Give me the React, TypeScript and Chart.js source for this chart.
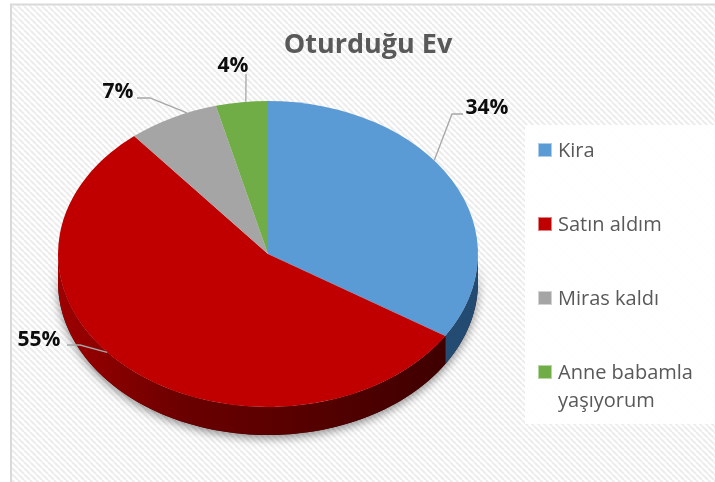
import React, { useEffect, useRef } from "react";
import { Chart, registerables } from "chart.js";

Chart.register(...registerables);

// ---- data ----
const TITLE = "Oturduğu Ev";
const CATEGORIES = ["Kira", "Satın aldım", "Miras kaldı", "Anne babamla yaşıyorum"];
const VALUES = [34, 55, 7, 4];
const VALUE_LABELS = ["34%", "55%", "7%", "4%"];

// ---- styles ----
const COLORS = ["#5b9bd5", "#c00000", "#a5a5a5", "#70ad47"];
const SIDE_STOPS = [
  ["#3d6f9e", "#2b557e", "#234a70"],
  ["#9e0000", "#6a0000", "#3a0000"],
  ["#7a7a7a", "#5e5e5e", "#4a4a4a"],
  ["#4f8030", "#3e6526", "#30501d"],
];
const TILT = 153 / 210;
const DEPTH = 28;
const FONT = "'Open Sans', 'DejaVu Sans', sans-serif";

// label layout: baseline-centered text position, leader elbow points, angle nudge for leader end
const LABEL_LAYOUT = [
  { x: 487, y: 114, path: [[463, 114], [452, 114]], nudge: -0.155 },
  { x: 39, y: 346, path: [[67, 345], [80, 345]], nudge: 0.15 },
  { x: 118, y: 98, path: [[137, 98], [150, 98]], nudge: 0.075 },
  { x: 233, y: 72, path: [[246, 74]], nudge: 0.02 },
];

function ellipsePt(cx: number, cy: number, r: number, t: number, dy = 0) {
  return [cx + r * Math.cos(t), cy + TILT * r * Math.sin(t) + dy];
}

function sidePath(ctx: CanvasRenderingContext2D, cx: number, cy: number, r: number, a1: number, a2: number) {
  const steps = 80;
  ctx.beginPath();
  for (let i = 0; i <= steps; i++) {
    const t = a1 + ((a2 - a1) * i) / steps;
    const [x, y] = ellipsePt(cx, cy, r, t);
    if (i === 0) ctx.moveTo(x, y);
    else ctx.lineTo(x, y);
  }
  for (let i = steps; i >= 0; i--) {
    const t = a1 + ((a2 - a1) * i) / steps;
    const [x, y] = ellipsePt(cx, cy, r, t, DEPTH);
    ctx.lineTo(x, y);
  }
  ctx.closePath();
}

const bgPlugin = {
  id: "bgPlugin",
  beforeDraw(chart: any) {
    const ctx: CanvasRenderingContext2D = chart.ctx;
    const w = chart.width, h = chart.height;
    ctx.save();
    ctx.fillStyle = "#ffffff";
    ctx.fillRect(0, 0, w, h);
    const p = document.createElement("canvas");
    p.width = 6; p.height = 6;
    const pc = p.getContext("2d")!;
    pc.fillStyle = "#ffffff";
    pc.fillRect(0, 0, 6, 6);
    pc.strokeStyle = "#ececec";
    pc.lineWidth = 2;
    pc.beginPath();
    for (const x0 of [-6, 0, 6]) {
      pc.moveTo(x0, 0);
      pc.lineTo(x0 + 6, 6);
    }
    pc.stroke();
    const pat = ctx.createPattern(p, "repeat")!;
    ctx.fillStyle = pat;
    ctx.fillRect(11, 5, w, h);
    ctx.strokeStyle = "#d9d9d9";
    ctx.lineWidth = 2;
    ctx.beginPath();
    ctx.moveTo(11, h + 5);
    ctx.lineTo(11, 4.5);
    ctx.lineTo(w + 5, 4.5);
    ctx.stroke();
    // legend box
    ctx.fillStyle = "rgba(255,255,255,0.92)";
    ctx.fillRect(525, 125, 200, 299);
    ctx.restore();
  },
};

const pie3dPlugin = {
  id: "pie3dPlugin",
  beforeDatasetsDraw(chart: any) {
    const ctx: CanvasRenderingContext2D = chart.ctx;
    const arcs = chart.getDatasetMeta(0).data;
    if (!arcs.length) return;
    const cx = arcs[0].x, cy = arcs[0].y, r = arcs[0].outerRadius;
    ctx.save();
    // shadow silhouette
    ctx.shadowColor = "rgba(0,0,0,0.45)";
    ctx.shadowBlur = 10;
    ctx.shadowOffsetY = 3;
    ctx.fillStyle = "#3a0000";
    sidePath(ctx, cx, cy, r, 0, Math.PI);
    ctx.fill();
    ctx.shadowColor = "transparent";
    ctx.shadowBlur = 0;
    ctx.shadowOffsetY = 0;
    arcs.forEach((arc: any, i: number) => {
      const a1 = Math.max(arc.startAngle, 0);
      const a2 = Math.min(arc.endAngle, Math.PI);
      if (a2 <= a1) return;
      const g = ctx.createLinearGradient(cx - r, 0, cx + r, 0);
      const s = SIDE_STOPS[i];
      g.addColorStop(0, s[0]);
      g.addColorStop(0.3, s[1]);
      g.addColorStop(1, s[2]);
      ctx.fillStyle = g;
      sidePath(ctx, cx, cy, r, a1, a2);
      ctx.fill();
    });
    ctx.restore();
    // squash the top face
    ctx.save();
    ctx.translate(0, cy);
    ctx.scale(1, TILT);
    ctx.translate(0, -cy);
  },
  afterDatasetsDraw(chart: any) {
    const ctx: CanvasRenderingContext2D = chart.ctx;
    ctx.restore();
    const arcs = chart.getDatasetMeta(0).data;
    if (!arcs.length) return;
    const cx = arcs[0].x, cy = arcs[0].y, r = arcs[0].outerRadius;
    ctx.save();
    arcs.forEach((arc: any, i: number) => {
      const L = LABEL_LAYOUT[i];
      const mid = (arc.startAngle + arc.endAngle) / 2 + L.nudge;
      const [ex, ey] = ellipsePt(cx, cy, r, mid);
      ctx.strokeStyle = "#a6a6a6";
      ctx.lineWidth = 1.3;
      ctx.beginPath();
      L.path.forEach((p, j) => (j === 0 ? ctx.moveTo(p[0], p[1]) : ctx.lineTo(p[0], p[1])));
      ctx.lineTo(ex, ey);
      ctx.stroke();
      ctx.fillStyle = "#0d0d0d";
      ctx.font = `bold 21px ${FONT}`;
      ctx.textAlign = "center";
      ctx.textBaseline = "alphabetic";
      ctx.fillText(VALUE_LABELS[i], L.x, L.y);
    });
    ctx.restore();
  },
  afterDraw(chart: any) {
    const ctx: CanvasRenderingContext2D = chart.ctx;
    ctx.save();
    // title
    ctx.fillStyle = "#595959";
    ctx.font = `bold 27px ${FONT}`;
    ctx.textAlign = "center";
    ctx.textBaseline = "alphabetic";
    ctx.fillText(TITLE, 368, 53);
    // legend
    const labels: string[] = chart.data.labels;
    const colors: string[] = chart.data.datasets[0].backgroundColor;
    ctx.font = `20px ${FONT}`;
    ctx.textAlign = "left";
    const maxW = 150;
    labels.forEach((lab, i) => {
      const yc = 150 + i * 74;
      ctx.fillStyle = colors[i];
      ctx.fillRect(538, yc - 7, 14, 14);
      ctx.strokeStyle = "rgba(255,255,255,0.5)";
      ctx.lineWidth = 1;
      ctx.strokeRect(538.5, yc - 6.5, 13, 13);
      ctx.fillStyle = "#595959";
      const words = lab.split(" ");
      const lines: string[] = [];
      let cur = "";
      words.forEach((w) => {
        const t = cur ? cur + " " + w : w;
        if (ctx.measureText(t).width > maxW && cur) {
          lines.push(cur);
          cur = w;
        } else cur = t;
      });
      lines.push(cur);
      lines.forEach((ln, j) => ctx.fillText(ln, 558, yc + 7 + j * 28));
    });
    ctx.restore();
  },
};

export default function App() {
  const ref = useRef<HTMLCanvasElement | null>(null);
  useEffect(() => {
    document.body.style.margin = "0";
    const chart = new Chart(ref.current!, {
      type: "pie",
      data: {
        labels: CATEGORIES,
        datasets: [
          {
            data: VALUES,
            backgroundColor: COLORS,
            borderWidth: 0,
            hoverOffset: 0,
            offset: 0,
            clip: false as any,
          },
        ],
      },
      options: {
        responsive: false,
        animation: false,
        events: [],
        layout: { padding: { left: 58, right: 237, top: 44, bottom: 18 } },
        plugins: {
          legend: { display: false },
          title: { display: false },
          tooltip: { enabled: false },
        },
      },
      plugins: [bgPlugin, pie3dPlugin],
    });
    return () => chart.destroy();
  }, []);
  return (
    <div style={{ position: "fixed", left: 0, top: 0, width: 715, height: 482 }}>
      <canvas ref={ref} width={715} height={482} style={{ width: 715, height: 482, display: "block" }} />
    </div>
  );
}
